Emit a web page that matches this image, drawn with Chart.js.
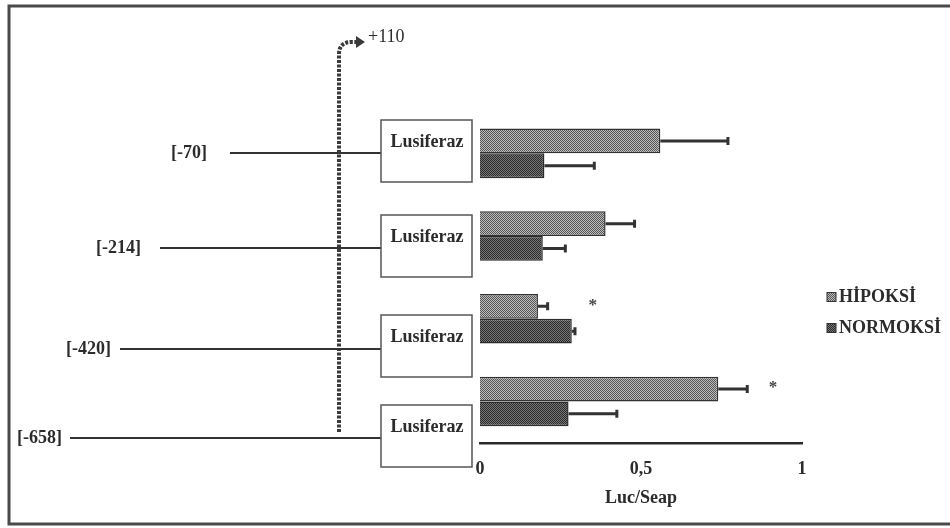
<!DOCTYPE html>
<html>
<head>
<meta charset="utf-8">
<script src="https://cdn.jsdelivr.net/npm/chart.js@4/dist/chart.umd.min.js"></script>
<style>
	body { margin: 0; background: #fff; }
	#chart { display: block; }
</style>
</head>
<body>
<canvas id="chart" width="950" height="528"></canvas>
<script>
const categories = ["[-70]", "[-214]", "[-420]", "[-658]"];
const hipoksi = [0.56, 0.39, 0.18, 0.74];
const hipoksi_err = [0.21, 0.09, 0.03, 0.09];
const normoksi = [0.20, 0.195, 0.285, 0.275];
const normoksi_err = [0.155, 0.07, 0.01, 0.15];
const significance = [null, null, 0.35, 0.91];
const x_ticks = [0, 0.5, 1];
const x_tick_labels = ["0", "0,5", "1"];

const serif = "'Liberation Serif', 'DejaVu Serif', serif";
const ink = "#2b2b2b";

function make_pattern(light, dark) {
	const c = document.createElement("canvas");
	c.width = 2;
	c.height = 2;
	const g = c.getContext("2d");
	g.fillStyle = light;
	g.fillRect(0, 0, 2, 2);
	g.fillStyle = dark;
	g.fillRect(0, 0, 1, 1);
	g.fillRect(1, 1, 1, 1);
	return g.createPattern(c, "repeat");
}

const hipoksi_fill = make_pattern("#bcbcbc", "#555555");
const normoksi_fill = make_pattern("#777777", "#2a2a2a");

// promoter diagram on the left, one row per construct
const row_line_y = [153, 248, 349, 438];
const row_line_start = [230, 160, 120, 70];
const row_label_right = [207, 141, 111, 62];
const box_top = [120, 215, 315, 405];

const diagram = {
	id: "diagram",
	beforeDraw(chart) {
		const ctx = chart.ctx;
		ctx.save();
		// frame
		ctx.strokeStyle = "#4a4a4a";
		ctx.lineWidth = 3;
		ctx.beginPath();
		ctx.moveTo(950, 6);
		ctx.lineTo(9, 6);
		ctx.lineTo(9, 524);
		ctx.lineTo(950, 524);
		ctx.stroke();

		// transcription start arrow
		ctx.strokeStyle = "#3a3a3a";
		ctx.lineWidth = 4;
		ctx.setLineDash([3, 1.5]);
		ctx.beginPath();
		ctx.moveTo(339, 432);
		ctx.lineTo(339, 54);
		ctx.quadraticCurveTo(339, 42, 352, 42);
		ctx.lineTo(356, 42);
		ctx.stroke();
		ctx.setLineDash([]);
		ctx.fillStyle = "#3a3a3a";
		ctx.beginPath();
		ctx.moveTo(356, 36);
		ctx.lineTo(365, 42);
		ctx.lineTo(356, 48);
		ctx.closePath();
		ctx.fill();
		ctx.fillStyle = ink;
		ctx.font = "18px " + serif;
		ctx.textAlign = "left";
		ctx.textBaseline = "middle";
		ctx.fillText("+110", 368, 37);

		categories.forEach((label, i) => {
			ctx.strokeStyle = "#333";
			ctx.lineWidth = 2;
			ctx.beginPath();
			ctx.moveTo(row_line_start[i], row_line_y[i]);
			ctx.lineTo(381, row_line_y[i]);
			ctx.stroke();

			ctx.fillStyle = ink;
			ctx.font = "bold 18px " + serif;
			ctx.textAlign = "right";
			ctx.fillText(label, row_label_right[i], row_line_y[i]);

			ctx.fillStyle = "#fff";
			ctx.fillRect(381, box_top[i], 91, 62);
			ctx.strokeStyle = "#555";
			ctx.lineWidth = 1.5;
			ctx.strokeRect(381, box_top[i], 91, 62);
			ctx.fillStyle = ink;
			ctx.textAlign = "center";
			ctx.fillText("Lusiferaz", 427, box_top[i] + 22);
		});
		ctx.restore();
	},
	afterDatasetsDraw(chart) {
		const ctx = chart.ctx;
		const x = chart.scales.x;
		const errors = [hipoksi_err, normoksi_err];
		ctx.save();
		ctx.strokeStyle = "#333";
		ctx.lineWidth = 3;
		chart.data.datasets.forEach((ds, d) => {
			chart.getDatasetMeta(d).data.forEach((bar, i) => {
				const end = x.getPixelForValue(ds.data[i] + errors[d][i]);
				ctx.beginPath();
				ctx.moveTo(bar.x, bar.y);
				ctx.lineTo(end, bar.y);
				ctx.moveTo(end, bar.y - 4);
				ctx.lineTo(end, bar.y + 4);
				ctx.stroke();
			});
		});
		// significance marks
		ctx.fillStyle = "#444";
		ctx.font = "bold 17px " + serif;
		ctx.textAlign = "center";
		ctx.textBaseline = "middle";
		const top_bars = chart.getDatasetMeta(0).data;
		significance.forEach((v, i) => {
			if (v == null) return;
			ctx.fillText("*", x.getPixelForValue(v), top_bars[i].y - 1);
		});

		// legend
		ctx.font = "bold 18px " + serif;
		ctx.textAlign = "left";
		const legend_y = [297, 328];
		chart.data.datasets.forEach((ds, d) => {
			ctx.fillStyle = ds.backgroundColor;
			ctx.fillRect(827, legend_y[d] - 4.5, 9, 9);
			ctx.strokeStyle = "#333";
			ctx.lineWidth = 1;
			ctx.strokeRect(827, legend_y[d] - 4.5, 9, 9);
			ctx.fillStyle = ink;
			ctx.fillText(ds.label, 839, legend_y[d]);
		});
		ctx.restore();
	}
};

const data = {
	labels: categories,
	datasets: [{
		label: "HİPOKSİ",
		data: hipoksi,
		backgroundColor: hipoksi_fill,
		borderColor: "#333",
		borderWidth: 1.5
	}, {
		label: "NORMOKSİ",
		data: normoksi,
		backgroundColor: normoksi_fill,
		borderColor: "#2a2a2a",
		borderWidth: 1.5
	}]
};

const options = {
	indexAxis: "y",
	responsive: false,
	animation: false,
	events: [],
	categoryPercentage: 0.6,
	barPercentage: 1,
	layout: {
		padding: { left: 480, top: 112, right: 148, bottom: 15 }
	},
	scales: {
		y: {
			display: false
		},
		x: {
			min: 0,
			max: 1,
			afterBuildTicks: axis => {
				axis.ticks = x_ticks.map(v => ({ value: v }));
			},
			grid: { display: false, drawTicks: false },
			border: { display: true, color: "#2a2a2a", width: 2.5 },
			ticks: {
				padding: 16,
				color: ink,
				font: { family: serif, size: 18, weight: "bold" },
				maxRotation: 0,
				callback: (value) => x_tick_labels[x_ticks.indexOf(value)]
			},
			title: {
				display: true,
				text: "Luc/Seap",
				color: ink,
				font: { family: serif, size: 18, weight: "bold" },
				padding: { top: -9, bottom: 4 }
			}
		}
	},
	plugins: {
		legend: { display: false },
		tooltip: { enabled: false }
	}
};

new Chart(document.getElementById("chart"), {
	type: "bar",
	data: data,
	options: options,
	plugins: [diagram]
});
</script>
</body>
</html>
